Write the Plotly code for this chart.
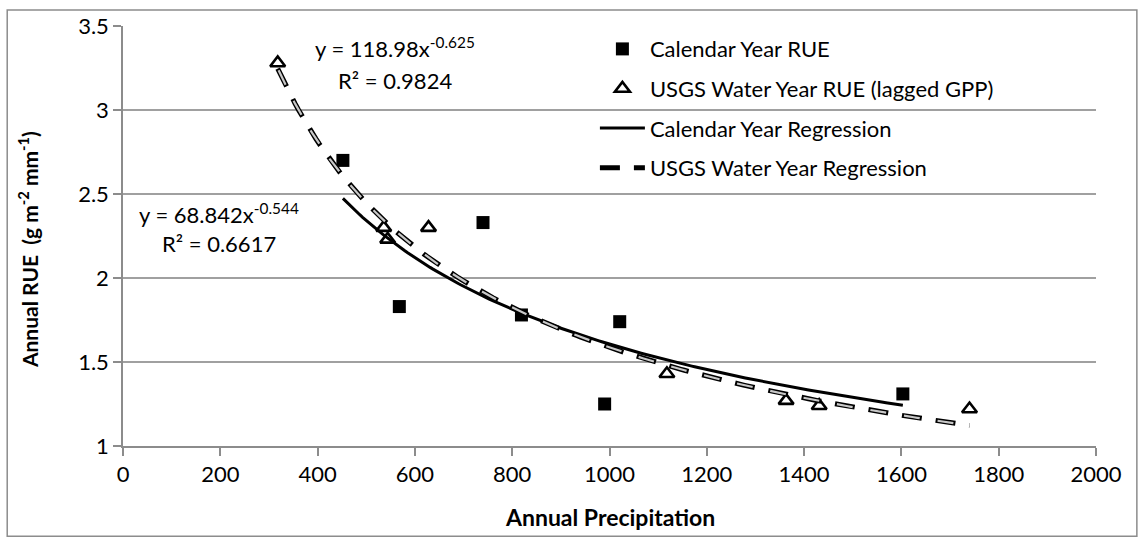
import numpy as np
import plotly.graph_objects as go

# ---- data ----
cal_precip = [452, 568, 740, 819, 990, 1021, 1603]
cal_rue = [2.70, 1.83, 2.33, 1.78, 1.25, 1.74, 1.31]

wy_precip = [318, 536, 544, 628, 1118, 1363, 1431, 1740]
wy_rue = [3.28, 2.30, 2.23, 2.30, 1.43, 1.27, 1.24, 1.22]

# power-law trendlines shown on the chart (y = a * x^b)
cal_a, cal_b = 68.842, -0.544
wy_a, wy_b = 118.98, -0.625

x_ticks = [0, 200, 400, 600, 800, 1000, 1200, 1400, 1600, 1800, 2000]
y_ticks = [1, 1.5, 2, 2.5, 3, 3.5]

FONT = "Lato"

cal_fit_x = np.linspace(min(cal_precip), max(cal_precip), 200)
cal_fit_y = cal_a * cal_fit_x ** cal_b
wy_fit_x = np.linspace(min(wy_precip), max(wy_precip), 200)
wy_fit_y = wy_a * wy_fit_x ** wy_b

fig = go.Figure()

fig.add_trace(go.Scatter(
    x=cal_precip, y=cal_rue, mode="markers", name="Calendar Year RUE",
    marker=dict(symbol="square", size=13, color="black"),
    legendgroup="a"))
fig.add_trace(go.Scatter(
    x=wy_precip, y=wy_rue, mode="markers", name="USGS Water Year RUE (lagged GPP)",
    marker=dict(symbol="triangle-up-open", size=13, color="black",
                line=dict(color="black", width=2.6)),
    legendgroup="b"))
fig.add_trace(go.Scatter(
    x=cal_fit_x, y=cal_fit_y, mode="lines", name="Calendar Year Regression",
    line=dict(color="black", width=3), legendgroup="c"))
fig.add_trace(go.Scatter(
    x=wy_fit_x, y=wy_fit_y, mode="lines", name="USGS Water Year Regression",
    line=dict(color="black", width=5, dash="20px,14px"),
    showlegend=True, legendgroup="d"))
fig.add_trace(go.Scatter(
    x=wy_fit_x, y=wy_fit_y, mode="lines", name="USGS Water Year Regression",
    line=dict(color="#c8c8c8", width=2.2, dash="0px,2px,16px,16px"),
    showlegend=False, legendgroup="d", hoverinfo="skip"))

axis_common = dict(
    showline=True, linecolor="#8c8c8c", linewidth=1.5,
    ticks="outside", ticklen=8, tickcolor="#8c8c8c", tickwidth=1.5,
    zeroline=False, tickfont=dict(family=FONT, size=22, color="black"),
)

fig.update_xaxes(range=[0, 2000], tickvals=x_ticks, tickformat="d",
                 showgrid=False, **axis_common)
fig.update_yaxes(range=[1, 3.5], tickvals=y_ticks,
                 showgrid=True, gridcolor="#a0a0a0", gridwidth=1.5,
                 **axis_common)

ann_font = dict(family=FONT, size=22, color="black")
annotations = [
    dict(x=560, y=3.37, text="y = 118.98x<sup>-0.625</sup>"),
    dict(x=560, y=3.176, text="R² = 0.9824"),
    dict(x=198, y=2.381, text="y = 68.842x<sup>-0.544</sup>"),
    dict(x=198, y=2.204, text="R² = 0.6617"),
]
for a in annotations:
    a.update(xref="x", yref="y", showarrow=False, font=ann_font,
             xanchor="center", yanchor="middle")

annotations.append(dict(
    xref="paper", yref="paper", x=-0.097, y=0.468, textangle=-90,
    text="<b>Annual RUE  (g m<sup>-2</sup> mm<sup>-1</sup>)</b>",
    showarrow=False, font=dict(family=FONT, size=21, color="black"),
    xanchor="center", yanchor="middle"))
annotations.append(dict(
    xref="paper", yref="paper", x=0.5, y=-0.170,
    text="<b>Annual Precipitation</b>",
    showarrow=False, font=dict(family=FONT, size=23, color="black"),
    xanchor="center", yanchor="middle"))

fig.update_layout(
    width=1144, height=545,
    margin=dict(l=123, r=48, t=22, b=99),
    paper_bgcolor="white", plot_bgcolor="white",
    annotations=annotations,
    legend=dict(x=0.485, y=0.995, xanchor="left", yanchor="top",
                bgcolor="rgba(0,0,0,0)", font=dict(family=FONT, size=22, color="black"),
                itemwidth=45, tracegroupgap=8, traceorder="grouped"),
    shapes=[dict(type="rect", xref="paper", yref="paper",
                 x0=-0.119, x1=1.042, y0=-0.215, y1=1.038,
                 line=dict(color="#8c8c8c", width=1.5), layer="below")],
)

fig.write_html("out.html")
